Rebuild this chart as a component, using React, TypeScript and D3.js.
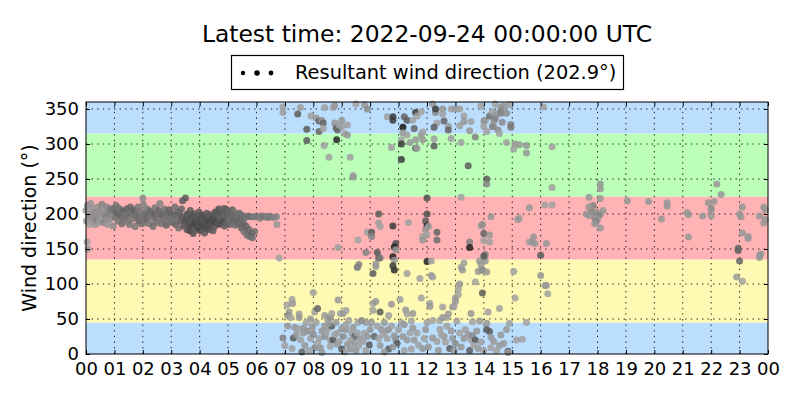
import * as d3 from "d3";
import { useEffect, useRef } from "react";

const titleText = "Latest time: 2022-09-24 00:00:00 UTC";
const legendText = "Resultant wind direction (202.9°)";

const hourTicks = [0, 1, 2, 3, 4, 5, 6, 7, 8, 9, 10, 11, 12, 13, 14, 15, 16, 17, 18, 19, 20, 21, 22, 23, 24];
const hourLabels = ["00", "01", "02", "03", "04", "05", "06", "07", "08", "09", "10", "11", "12", "13", "14", "15", "16", "17", "18", "19", "20", "21", "22", "23", "00"];
const dirTicks = [0, 50, 100, 150, 200, 250, 300, 350];

// direction sectors (degrees)
const sectorFrom = [0, 45, 135, 225, 315];
const sectorTo = [45, 135, 225, 315, 360];
const sectorColors = ["#bbdeff", "#fffab3", "#ffb3b4", "#bbffb9", "#bbdeff"];

// [hour, direction, grey level]
const nightBand = [
  [0.0, 205, 150], [0.02, 190, 150], [0.04, 160, 160], [0.05, 212, 150], [0.07, 150, 160], [0.09, 198, 140],
  [0.1, 200, 150], [0.13, 185, 160], [0.16, 215, 150], [0.2, 195, 140], [0.23, 208, 150], [0.26, 188, 150],
  [0.3, 202, 140], [0.33, 185, 150], [0.36, 192, 130], [0.4, 210, 150], [0.43, 196, 140], [0.46, 188, 150],
  [0.5, 205, 140], [0.53, 193, 150], [0.56, 214, 130], [0.6, 200, 140], [0.63, 188, 130], [0.66, 208, 150],
  [0.7, 197, 130], [0.73, 210, 140], [0.76, 185, 150], [0.8, 203, 130], [0.83, 192, 140], [0.86, 207, 120],
  [0.9, 199, 130], [0.93, 208, 120], [0.96, 183, 140], [1.0, 205, 110], [1.03, 195, 120], [1.06, 212, 110],
  [1.1, 201, 100], [1.13, 190, 120], [1.16, 208, 110], [1.2, 198, 100], [1.23, 206, 120], [1.26, 186, 110],
  [1.3, 204, 100], [1.33, 193, 110], [1.36, 199, 120], [1.4, 196, 110], [1.43, 207, 100], [1.46, 189, 120],
  [1.5, 202, 110], [1.53, 185, 120], [1.56, 210, 100], [1.6, 199, 110], [1.63, 193, 120], [1.66, 206, 110],
  [1.7, 205, 100], [1.73, 182, 120], [1.76, 197, 110], [1.8, 200, 110], [1.83, 210, 120], [1.86, 190, 100],
  [1.9, 196, 110], [1.93, 204, 120], [1.96, 186, 110], [2.0, 223, 140], [2.02, 214, 130], [2.04, 198, 110],
  [2.07, 188, 120], [2.1, 201, 110], [2.13, 192, 100], [2.16, 207, 120], [2.2, 197, 110], [2.23, 186, 120],
  [2.26, 204, 100], [2.3, 203, 110], [2.33, 195, 120], [2.36, 182, 110], [2.4, 199, 100], [2.43, 209, 120],
  [2.46, 190, 110], [2.5, 195, 110], [2.53, 188, 120], [2.56, 205, 100], [2.6, 215, 130], [2.63, 200, 110],
  [2.66, 186, 120], [2.7, 198, 100], [2.73, 192, 110], [2.76, 207, 120], [2.8, 202, 110], [2.83, 184, 100],
  [2.86, 195, 120], [2.9, 197, 110], [2.93, 206, 100], [2.96, 190, 110], [3.0, 201, 100], [3.03, 188, 110],
  [3.06, 194, 120], [3.1, 199, 100], [3.13, 210, 110], [3.16, 185, 100], [3.2, 195, 110], [3.23, 203, 100],
  [3.26, 180, 110], [3.3, 200, 100], [3.33, 190, 90], [3.36, 207, 100], [3.4, 219, 90], [3.42, 196, 90],
  [3.45, 183, 80], [3.47, 190, 90], [3.5, 223, 90], [3.52, 193, 80], [3.55, 178, 90], [3.57, 200, 80],
  [3.6, 198, 90], [3.62, 186, 80], [3.65, 176, 70], [3.67, 205, 90], [3.7, 194, 80], [3.72, 183, 70],
  [3.75, 190, 90], [3.77, 172, 80], [3.8, 200, 80], [3.82, 187, 70], [3.85, 178, 90], [3.87, 195, 80],
  [3.9, 196, 90], [3.92, 181, 70], [3.95, 189, 80], [3.97, 203, 90], [4.0, 192, 80], [4.02, 176, 70],
  [4.05, 185, 80], [4.07, 199, 90], [4.1, 198, 80], [4.12, 184, 70], [4.15, 190, 80], [4.17, 173, 90],
  [4.2, 195, 80], [4.22, 180, 70], [4.25, 201, 90], [4.27, 187, 80], [4.3, 190, 70], [4.32, 178, 80],
  [4.35, 197, 90], [4.37, 184, 80], [4.4, 199, 90], [4.42, 186, 80], [4.45, 193, 70], [4.47, 176, 90],
  [4.5, 194, 80], [4.52, 182, 90], [4.55, 203, 80], [4.57, 188, 70], [4.6, 200, 90], [4.62, 190, 80],
  [4.65, 185, 90], [4.67, 207, 80], [4.7, 196, 90], [4.72, 186, 80], [4.75, 204, 90], [4.77, 192, 100],
  [4.8, 202, 90], [4.82, 190, 80], [4.85, 208, 100], [4.87, 183, 90], [4.9, 198, 100], [4.92, 207, 90],
  [4.95, 186, 100], [4.97, 195, 90], [5.0, 204, 100], [5.02, 192, 110], [5.05, 185, 100], [5.07, 200, 110],
  [5.1, 199, 100], [5.12, 188, 110], [5.15, 206, 100], [5.17, 194, 110], [5.2, 203, 110], [5.22, 191, 100],
  [5.25, 184, 110], [5.27, 197, 100], [5.3, 196, 110], [5.33, 187, 100], [5.36, 200, 110], [5.4, 201, 110],
  [5.42, 193, 100], [5.45, 186, 110], [5.47, 180, 100], [5.5, 198, 110], [5.53, 188, 100], [5.56, 175, 110],
  [5.6, 195, 110], [5.63, 183, 100], [5.66, 170, 110], [5.7, 197, 110], [5.73, 178, 100], [5.76, 168, 110],
  [5.8, 196, 110], [5.83, 172, 100], [5.86, 166, 110], [5.9, 196, 120], [5.93, 175, 110], [6.0, 196, 120],
  [6.1, 196, 120], [6.13, 194, 130], [6.2, 197, 120], [6.3, 196, 120], [6.4, 195, 120], [6.43, 197, 130],
  [6.5, 196, 120], [6.6, 195, 130], [6.7, 196, 130], [6.72, 185, 150], [6.8, 137, 160],
];

const lowScatter = [
  [7.07, 70, 160], [7.25, 78, 160], [7.27, 72, 150], [7.15, 60, 150], [7.1, 55, 140], [7.2, 52, 160],
  [7.5, 57, 160], [7.5, 52, 150], [8.0, 88, 160], [7.35, 38, 150], [7.45, 36, 160], [7.65, 37, 150],
  [7.8, 33, 140], [7.95, 35, 160], [7.9, 50, 150], [8.05, 60, 160], [8.15, 65, 100], [6.93, 23, 130],
  [7.3, 23, 90], [7.25, 8, 160], [7.6, 3, 100], [7.65, 30, 150], [7.9, 22, 160], [7.97, 40, 150],
  [8.1, 45, 160], [8.4, 55, 150], [8.5, 50, 160], [8.6, 52, 140], [8.65, 58, 160], [8.87, 77, 150],
  [8.95, 58, 160], [9.05, 58, 150], [9.15, 62, 160], [8.4, 40, 150], [8.5, 36, 160], [8.65, 40, 90],
  [8.3, 33, 150], [8.2, 22, 160], [8.4, 25, 140], [8.6, 20, 150], [8.7, 20, 90], [8.6, 11, 160],
  [8.85, 14, 150], [9.0, 7, 90], [8.25, 9, 150], [8.05, 9, 140], [8.85, 30, 160], [9.0, 36, 150],
  [9.57, 45, 160], [9.15, 35, 150], [9.35, 30, 160], [9.45, 25, 100], [9.65, 22, 150], [9.8, 30, 160],
  [9.85, 45, 150], [9.7, 48, 140], [9.3, 20, 160], [9.45, 15, 150], [9.6, 12, 160], [9.97, 13, 90],
  [9.3, 7, 150], [9.15, 42, 160], [10.1, 72, 160], [10.2, 75, 150], [10.1, 62, 160], [10.35, 60, 90],
  [10.1, 115, 90], [10.2, 125, 150], [9.55, 124, 140], [10.0, 35, 150], [10.15, 25, 100], [10.3, 22, 160],
  [10.4, 35, 150], [10.55, 33, 160], [10.5, 45, 150], [10.65, 55, 160], [10.75, 71, 150], [10.85, 120, 40],
  [11.05, 78, 160], [11.25, 63, 150], [11.3, 57, 160], [11.5, 58, 150], [11.1, 45, 160], [11.2, 42, 150],
  [11.45, 47, 160], [11.5, 37, 150], [11.4, 30, 160], [10.65, 35, 150], [10.6, 22, 160], [10.85, 26, 150],
  [10.9, 20, 140], [10.95, 15, 90], [10.65, 7, 90], [11.3, 20, 150], [11.45, 7, 160], [11.3, 115, 160],
  [11.75, 108, 160], [11.8, 80, 160], [11.95, 35, 150], [12.1, 72, 160], [12.15, 112, 150], [12.2, 110, 160],
  [12.1, 68, 150], [12.0, 45, 160], [12.2, 23, 150], [12.2, 48, 160], [12.45, 48, 160], [12.55, 52, 150],
  [11.9, 22, 160], [11.85, 8, 150], [11.7, 13, 160], [12.55, 67, 160], [12.75, 57, 150], [12.7, 52, 160],
  [12.9, 67, 150], [12.95, 68, 160], [13.0, 80, 150], [13.1, 85, 160], [13.15, 100, 150], [13.1, 93, 160],
  [13.0, 75, 150], [12.45, 35, 160], [12.6, 25, 150], [12.7, 40, 160], [12.85, 33, 150], [12.65, 17, 160],
  [12.9, 22, 150], [13.0, 15, 140], [12.8, 8, 90], [13.05, 47, 160], [13.2, 124, 160], [13.25, 120, 150],
  [13.7, 103, 160], [13.8, 118, 150], [13.95, 120, 160], [13.9, 127, 150], [13.95, 87, 90], [13.55, 58, 150],
  [13.6, 46, 160], [13.85, 47, 150], [13.35, 35, 160], [13.45, 28, 150], [13.55, 20, 160], [13.3, 22, 150],
  [13.6, 26, 140], [13.7, 20, 90], [13.8, 8, 150], [13.5, 5, 90], [13.9, 17, 160], [14.1, 44, 150],
  [14.15, 60, 160], [14.1, 35, 90], [14.2, 32, 90], [14.25, 24, 150], [14.55, 65, 160], [14.9, 44, 160],
  [14.8, 35, 150], [15.15, 20, 160], [15.05, 118, 160], [15.1, 80, 160], [14.55, 12, 150], [14.25, 9, 160],
  [14.85, 4, 90], [14.6, 27, 150], [15.5, 45, 160], [15.35, 21, 160], [14.85, 2, 150], [16.0, 112, 150],
  [16.15, 98, 160], [16.25, 86, 160], [14.0, 137, 150], [14.05, 133, 150], [13.95, 120, 140],
  [14.1, 117, 150], [16.2, 98, 150],
  [7.4, 28, 150], [7.55, 20, 160], [7.7, 12, 150], [7.85, 5, 160], [8.0, 28, 140], [8.15, 15, 160],
  [8.3, 2, 150], [8.45, 30, 160], [8.55, 44, 150], [8.75, 28, 160], [8.8, 45, 150], [8.9, 18, 160],
  [9.05, 25, 140], [9.1, 3, 160], [9.2, 14, 150], [9.25, 48, 160], [9.4, 38, 150], [9.55, 30, 160],
  [9.5, 5, 150], [9.75, 18, 160], [9.9, 25, 150], [9.85, 5, 160], [10.05, 45, 150], [10.25, 40, 160],
  [10.35, 12, 150], [10.45, 28, 160], [10.5, 3, 150], [10.75, 40, 160], [10.8, 10, 150], [11.0, 35, 160],
  [11.15, 25, 150], [11.2, 5, 160], [11.55, 20, 150], [11.65, 30, 160], [12.05, 10, 150], [12.35, 18, 160],
  [12.4, 5, 150], [12.5, 28, 160], [12.95, 5, 150], [13.15, 30, 160], [13.2, 10, 150], [13.65, 12, 160],
  [13.75, 33, 150], [14.0, 5, 160], [14.35, 18, 150], [14.45, 5, 160], [14.7, 15, 150], [7.0, 12, 160],
  [7.1, 40, 150], [7.75, 45, 160],
];

const highScatter = [
  [6.93, 353, 160], [6.93, 345, 160], [7.45, 343, 90], [7.55, 352, 160], [7.77, 321, 90], [7.77, 305, 90],
  [7.92, 340, 160], [8.1, 337, 150], [8.2, 333, 100], [8.2, 318, 100], [8.38, 298, 160], [8.3, 334, 150],
  [8.35, 330, 100], [8.35, 322, 160], [8.4, 352, 160], [8.7, 352, 160], [8.75, 355, 150], [8.55, 281, 160],
  [8.75, 330, 150], [8.8, 323, 100], [8.85, 320, 100], [8.82, 306, 40], [8.9, 327, 160], [9.0, 334, 150],
  [9.0, 325, 160], [9.1, 315, 160], [9.2, 327, 160], [9.2, 313, 150], [9.3, 281, 160], [9.4, 255, 160],
  [9.4, 253, 150], [9.5, 357, 160], [9.8, 356, 150], [9.9, 350, 140], [10.6, 339, 160], [10.75, 295, 160],
  [10.8, 339, 60], [10.8, 334, 60], [11.15, 324, 20], [11.2, 339, 100], [11.3, 334, 90], [11.15, 316, 150],
  [11.1, 306, 160], [11.1, 300, 60], [11.1, 278, 60], [11.3, 313, 160], [11.4, 302, 150], [11.5, 334, 160],
  [11.55, 322, 100], [11.6, 345, 60], [11.65, 340, 160], [11.6, 306, 150], [11.6, 294, 90], [11.65, 294, 160],
  [11.8, 346, 160], [11.8, 313, 150], [11.85, 317, 160], [11.85, 306, 150], [12.2, 357, 150], [12.3, 345, 140],
  [12.3, 350, 60], [12.35, 330, 160], [12.25, 324, 90], [12.25, 307, 160], [12.25, 297, 90], [12.55, 350, 150],
  [12.55, 343, 160], [12.6, 333, 100], [12.75, 325, 150], [12.75, 320, 100], [12.85, 308, 160], [12.85, 350, 160],
  [13.0, 350, 150], [13.15, 350, 160], [13.15, 326, 160], [13.3, 340, 160], [13.3, 332, 150], [13.2, 302, 160],
  [13.5, 319, 150], [13.55, 332, 160], [13.45, 269, 90], [13.7, 310, 130], [14.1, 250, 90], [14.1, 243, 130],
  [13.9, 354, 160], [14.0, 333, 150], [14.0, 325, 160], [14.1, 318, 160], [14.05, 334, 150], [14.2, 340, 110],
  [14.3, 346, 160], [14.35, 333, 150], [14.35, 325, 160], [14.4, 357, 160], [14.45, 343, 150], [14.5, 320, 140],
  [14.55, 315, 160], [14.6, 353, 150], [14.9, 356, 160], [14.8, 302, 160], [15.1, 300, 150], [15.05, 293, 160],
  [16.1, 353, 160], [14.7, 354, 150], [14.6, 348, 140], [14.6, 344, 130], [14.8, 344, 140], [14.4, 336, 130],
  [14.65, 331, 140], [14.3, 325, 130], [14.95, 328, 130], [14.95, 324, 120], [15.25, 299, 150], [15.5, 298, 150],
  [15.5, 287, 150], [16.4, 296, 160], [16.4, 238, 160],
];

const midScatter = [
  [8.87, 152, 160], [9.57, 163, 160], [9.55, 124, 130], [9.6, 128, 130], [9.85, 145, 130], [9.9, 174, 160],
  [10.05, 174, 90], [10.05, 168, 130], [10.3, 200, 90], [10.3, 187, 160], [10.35, 182, 160], [10.25, 145, 90],
  [10.3, 137, 90], [10.35, 137, 120], [10.2, 129, 150], [10.8, 183, 60], [10.9, 158, 80], [10.85, 153, 30],
  [10.8, 139, 30], [10.9, 149, 150], [10.85, 134, 150], [10.8, 126, 60], [11.35, 188, 160], [12.0, 223, 80],
  [12.0, 200, 80], [11.95, 190, 90], [12.0, 183, 30], [11.95, 178, 150], [12.05, 182, 160], [12.0, 170, 160],
  [11.85, 168, 160], [11.85, 163, 150], [12.0, 132, 30], [12.15, 133, 160], [12.35, 174, 100], [12.35, 163, 110],
  [13.2, 224, 160], [13.5, 160, 130], [13.5, 152, 30], [13.3, 130, 160], [13.9, 183, 160], [14.0, 162, 160],
  [14.2, 160, 160], [14.05, 142, 130], [14.0, 140, 90], [13.85, 133, 150], [14.25, 196, 150], [15.25, 194, 160],
  [15.6, 160, 160], [13.95, 185, 140], [14.0, 172, 100], [14.2, 170, 150], [15.6, 209, 150], [15.2, 192, 150],
  [16.15, 213, 160], [16.4, 213, 160], [15.75, 167, 150], [15.7, 160, 150], [15.8, 158, 150], [16.2, 158, 150],
  [16.0, 141, 90],
];

const eveningScatter = [
  [17.7, 224, 150], [18.1, 222, 150], [18.1, 243, 150], [18.1, 236, 150], [17.85, 212, 130], [17.7, 210, 150],
  [17.6, 200, 150], [17.8, 203, 130], [17.95, 202, 140], [18.1, 200, 150], [18.2, 205, 150], [18.05, 198, 130],
  [17.9, 194, 140], [18.0, 193, 150], [17.95, 189, 130], [17.9, 186, 150], [18.1, 180, 150], [17.7, 198, 150],
  [19.05, 219, 150], [19.8, 218, 150], [20.45, 216, 150], [20.45, 211, 150], [20.25, 193, 150], [21.2, 167, 150],
  [21.15, 202, 150], [21.2, 199, 150], [21.7, 197, 150], [22.0, 197, 150], [21.9, 216, 150], [22.1, 218, 150],
  [22.0, 208, 130], [22.0, 206, 150], [22.2, 243, 150], [22.35, 228, 150], [23.1, 210, 150], [23.0, 200, 150],
  [23.05, 196, 150], [23.1, 173, 150], [23.3, 168, 150], [23.3, 165, 150], [22.95, 151, 100], [22.95, 148, 100],
  [23.0, 133, 100], [23.7, 197, 150], [23.85, 210, 150], [23.9, 206, 150], [23.9, 192, 150], [23.85, 187, 150],
  [23.7, 141, 150], [23.75, 143, 150], [23.7, 138, 150], [22.9, 110, 150], [23.1, 104, 160],
];

const font = "DejaVu Sans, sans-serif";

function WindChart({
  width = 800,
  height = 400,
  marginTop = 102,
  marginRight = 32,
  marginBottom = 46,
  marginLeft = 86,
}) {
  const svgRef = useRef(null);

  useEffect(() => {
    const svg = d3.select(svgRef.current).attr("width", width).attr("height", height);
    svg.selectAll("*").remove();

    const x = d3.scaleLinear([0, 24], [marginLeft, width - marginRight]);
    const y = d3.scaleLinear([0, 360], [height - marginBottom, marginTop]);
    const x0 = x(0), x1 = x(24), y0 = y(0), y1 = y(360);

    svg.append("rect").attr("width", width).attr("height", height).attr("fill", "white");

    // sector bands
    svg.append("g").selectAll("rect").data(sectorFrom).enter().append("rect")
      .attr("x", x0)
      .attr("width", x1 - x0)
      .attr("y", (d, i) => y(sectorTo[i]))
      .attr("height", (d, i) => y(d) - y(sectorTo[i]))
      .attr("fill", (d, i) => sectorColors[i]);

    // grid
    const grid = svg.append("g").attr("stroke", "black").attr("stroke-width", 1)
      .attr("stroke-dasharray", "1.4,4.2").attr("opacity", 0.85);
    grid.selectAll("line.v").data(hourTicks.slice(1, -1)).enter().append("line")
      .attr("x1", d => x(d)).attr("x2", d => x(d)).attr("y1", y0).attr("y2", y1);
    grid.selectAll("line.h").data(dirTicks.slice(1)).enter().append("line")
      .attr("x1", x0).attr("x2", x1).attr("y1", d => y(d)).attr("y2", d => y(d));

    // points
    const allPoints = [...nightBand, ...lowScatter, ...highScatter, ...midScatter, ...eveningScatter];
    svg.append("g").selectAll("circle").data(allPoints).enter().append("circle")
      .attr("cx", d => x(d[0]))
      .attr("cy", d => y(d[1]))
      .attr("r", 3.5)
      .attr("fill", d => d3.rgb(d[2], d[2], d[2]).toString())
      .attr("fill-opacity", 0.85);

    // frame
    svg.append("rect")
      .attr("x", x0).attr("y", y1).attr("width", x1 - x0).attr("height", y0 - y1)
      .attr("fill", "none").attr("stroke", "black").attr("stroke-width", 1);

    // inward ticks on all sides
    const xAxisB = d3.axisBottom(x).tickValues(hourTicks).tickSizeInner(-4).tickSizeOuter(0)
      .tickFormat((d, i) => hourLabels[i]);
    const gxb = svg.append("g").attr("transform", `translate(0,${y0})`).call(xAxisB);
    gxb.select(".domain").remove();
    gxb.selectAll("text").attr("y", 8).attr("dy", "0.71em").style("font-family", font).style("font-size", "18px").attr("fill", "black");

    const xAxisT = d3.axisTop(x).tickValues(hourTicks).tickSizeInner(-4).tickSizeOuter(0).tickFormat(() => "");
    const gxt = svg.append("g").attr("transform", `translate(0,${y1})`).call(xAxisT);
    gxt.select(".domain").remove();

    const yAxisL = d3.axisLeft(y).tickValues(dirTicks).tickSizeInner(-4).tickSizeOuter(0);
    const gyl = svg.append("g").attr("transform", `translate(${x0},0)`).call(yAxisL);
    gyl.select(".domain").remove();
    gyl.selectAll("text").attr("x", -7).style("font-family", font).style("font-size", "18px").attr("fill", "black");

    const yAxisR = d3.axisRight(y).tickValues(dirTicks).tickSizeInner(-4).tickSizeOuter(0).tickFormat(() => "");
    const gyr = svg.append("g").attr("transform", `translate(${x1},0)`).call(yAxisR);
    gyr.select(".domain").remove();

    svg.selectAll(".tick line").attr("stroke", "black");

    // y label
    svg.append("text")
      .attr("transform", `translate(36,${(y0 + y1) / 2}) rotate(-90)`)
      .attr("text-anchor", "middle")
      .style("font-family", font).style("font-size", "19px")
      .text("Wind direction (°)");

    // title
    svg.append("text")
      .attr("x", (x0 + x1) / 2).attr("y", 42)
      .attr("text-anchor", "middle")
      .style("font-family", font).style("font-size", "23.4px")
      .text(titleText);

    // legend
    const lg = svg.append("g");
    lg.append("rect").attr("x", 231.5).attr("y", 55.5).attr("width", 392).attr("height", 34)
      .attr("fill", "white").attr("stroke", "black").attr("stroke-width", 1.2);
    lg.selectAll("circle").data([2.2, 2.8, 2.4]).enter().append("circle")
      .attr("cx", (d, i) => 243 + i * 14).attr("cy", 73).attr("r", d => d).attr("fill", "black");
    lg.append("text").attr("x", 295).attr("y", 79)
      .style("font-family", font).style("font-size", "19.4px")
      .text(legendText);
  }, []);

  return <svg ref={svgRef} style={{ position: "absolute", left: 0, top: 0 }} />;
}

export default function App() {
  return <WindChart />;
}
